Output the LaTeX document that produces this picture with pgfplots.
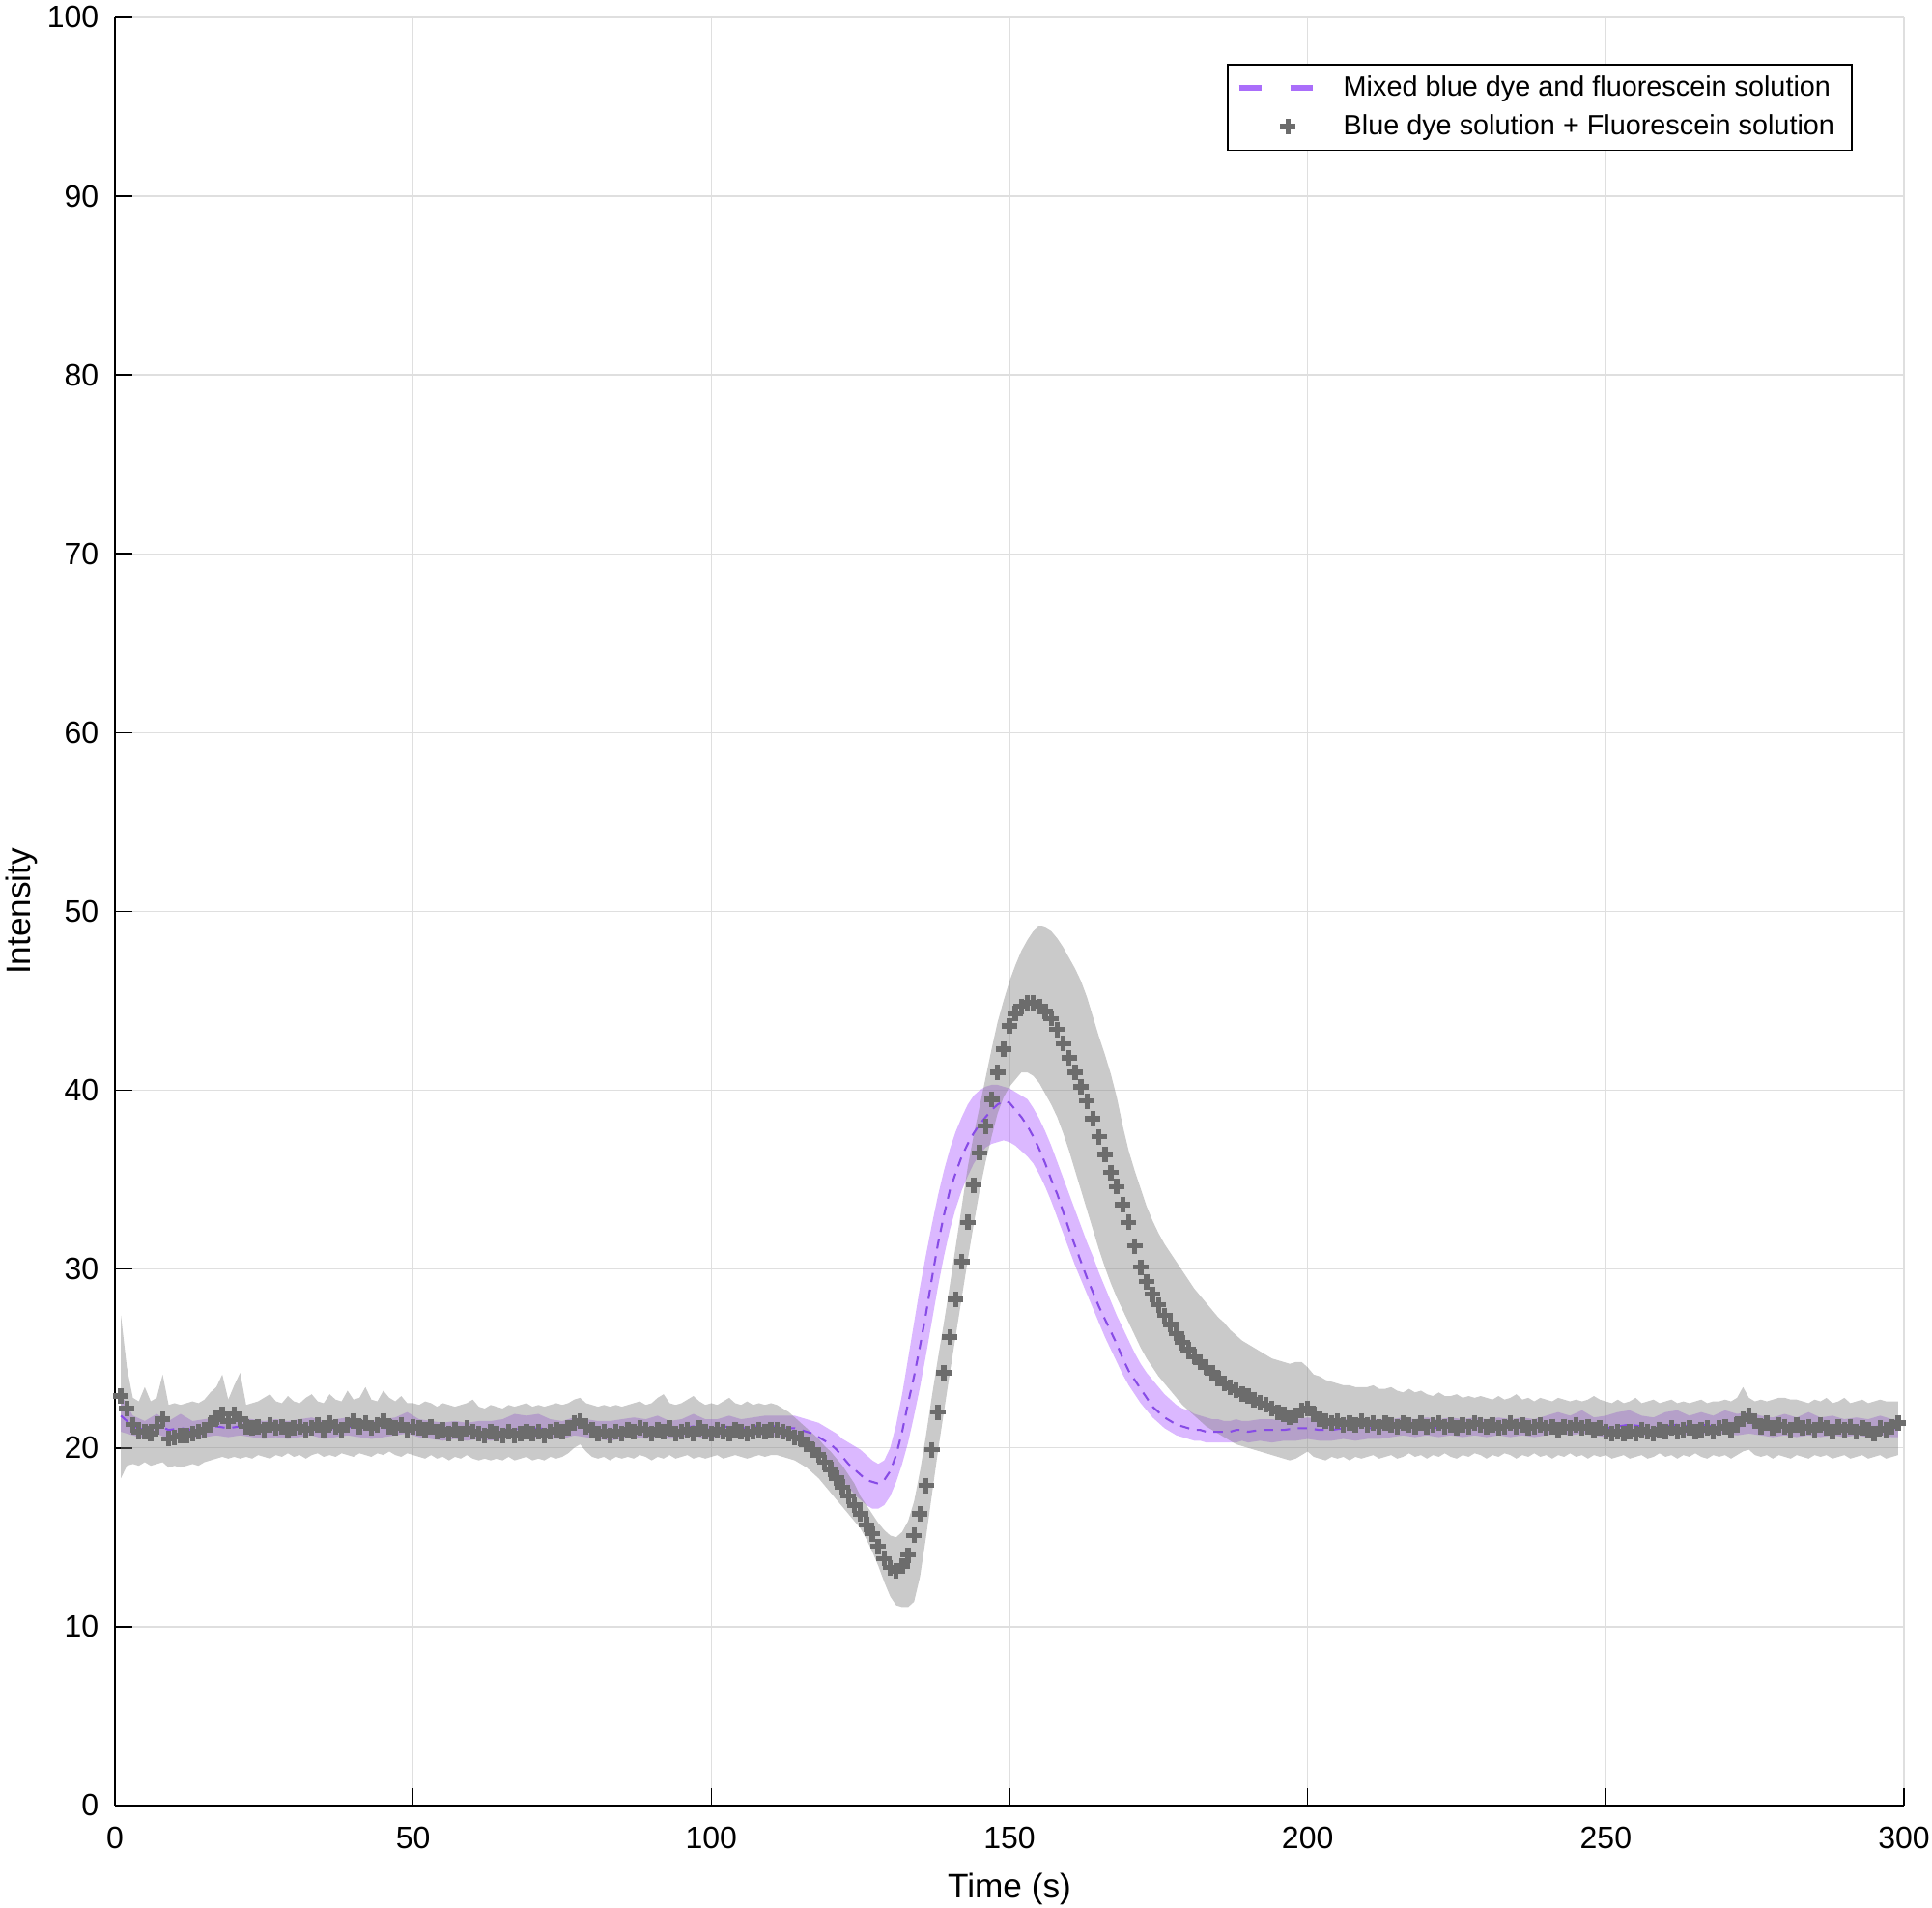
\documentclass[border=0pt]{standalone}
\usepackage{fontspec}
\setmainfont{Liberation Sans}
\usepackage{pgfplots}
\pgfplotsset{compat=1.18}
\usepackage{pgfplotstable}
\usepgfplotslibrary{fillbetween}
\definecolor{bandgray}{gray}{0.5}
\definecolor{markgray}{RGB}{108,108,108}
\definecolor{bandpurple}{RGB}{170,85,255}
\definecolor{linepurple}{RGB}{135,75,230}
\definecolor{legpurple}{RGB}{170,110,250}
\definecolor{gridgray}{RGB}{223,223,223}
\pgfplotsset{
  legdash/.style={legend image code/.code={\draw[legpurple, solid, line width=2pt, dash pattern=on 7.2pt off 9.4pt] (0pt,0pt) -- (23.8pt,0pt); \path[draw=none] (0pt,0pt) -- (30.8pt,0pt);}},
  legmark/.style={legend image code/.code={\path[draw=none] (0pt,0pt) -- (30.8pt,0pt); \draw[##1] plot coordinates {(15.9pt,0pt)};}},
}

\pgfplotstableread[row sep=\\]{
t m lo hi\\
1 22.9 18.3 27.4\\ 2 22.2 19.0 24.5\\ 3 21.3 19.1 22.8\\ 4 20.9 19.0 22.6\\ 5 20.9 19.2 23.4\\
6 20.8 19.0 22.6\\ 7 21.2 19.1 22.8\\ 8 21.6 19.2 24.1\\ 9 20.5 18.9 22.4\\ 10 20.6 19.0 22.5\\
11 20.7 18.9 22.4\\ 12 20.7 19.0 22.5\\ 13 20.8 19.1 22.6\\ 14 20.9 19.0 22.5\\ 15 21.0 19.2 22.7\\
16 21.3 19.3 23.1\\ 17 21.7 19.4 23.4\\ 18 21.9 19.5 24.1\\ 19 21.5 19.4 22.7\\ 20 21.9 19.5 23.5\\
21 21.6 19.4 24.2\\ 22 21.2 19.5 22.4\\ 23 21.1 19.4 22.5\\ 24 21.2 19.6 22.6\\ 25 21.0 19.5 22.8\\
26 21.3 19.4 23.0\\ 27 21.1 19.6 22.6\\ 28 21.2 19.5 22.5\\ 29 21.0 19.7 22.9\\ 30 21.1 19.5 22.6\\
31 21.2 19.6 22.5\\ 32 21.0 19.4 22.8\\ 33 21.1 19.6 23.0\\ 34 21.3 19.7 22.6\\ 35 21.0 19.5 22.5\\
36 21.4 19.6 23.0\\ 37 21.2 19.5 22.7\\ 38 21.0 19.7 22.6\\ 39 21.3 19.6 23.2\\ 40 21.5 19.5 22.7\\
41 21.2 19.7 22.8\\ 42 21.4 19.6 23.4\\ 43 21.1 19.5 22.7\\ 44 21.3 19.7 22.6\\ 45 21.5 19.6 23.2\\
46 21.2 19.8 22.8\\ 47 21.1 19.6 22.6\\ 48 21.3 19.5 22.9\\ 49 21.0 19.7 22.5\\ 50 21.2 19.6 22.5\\
51 21.1 19.5 22.4\\ 52 21.0 19.4 22.6\\ 53 21.2 19.6 22.5\\ 54 20.9 19.4 22.3\\ 55 21.0 19.5 22.5\\
56 20.8 19.3 22.4\\ 57 21.0 19.5 22.3\\ 58 20.8 19.4 22.4\\ 59 21.1 19.6 22.5\\ 60 20.9 19.4 22.7\\
61 20.8 19.3 22.3\\ 62 20.7 19.4 22.2\\ 63 20.9 19.3 22.4\\ 64 20.8 19.4 22.3\\ 65 20.7 19.3 22.2\\
66 20.9 19.5 22.4\\ 67 20.7 19.3 22.3\\ 68 20.8 19.4 22.4\\ 69 20.9 19.5 22.5\\ 70 20.8 19.3 22.3\\
71 20.9 19.4 22.4\\ 72 20.7 19.3 22.3\\ 73 20.9 19.5 22.4\\ 74 21.0 19.4 22.5\\ 75 20.9 19.5 22.4\\
76 21.1 19.7 22.5\\ 77 21.4 20.0 22.7\\ 78 21.5 20.2 22.8\\ 79 21.2 19.8 22.5\\ 80 21.0 19.5 22.4\\
81 20.8 19.4 22.3\\ 82 20.9 19.5 22.4\\ 83 20.7 19.3 22.3\\ 84 20.9 19.5 22.4\\ 85 20.8 19.4 22.3\\
86 21.0 19.5 22.4\\ 87 20.9 19.4 22.5\\ 88 21.1 19.6 22.6\\ 89 21.0 19.5 22.4\\ 90 20.8 19.3 22.5\\
91 21.0 19.5 22.8\\ 92 20.9 19.4 23.0\\ 93 21.1 19.6 22.5\\ 94 20.8 19.4 22.4\\ 95 20.9 19.5 22.5\\
96 21.0 19.6 22.7\\ 97 20.8 19.4 22.9\\ 98 21.1 19.5 22.6\\ 99 20.9 19.4 22.4\\ 100 20.8 19.5 22.5\\
101 21.0 19.6 22.4\\ 102 20.9 19.4 22.6\\ 103 20.8 19.5 22.8\\ 104 21.0 19.6 22.5\\ 105 20.9 19.5 22.4\\
106 20.8 19.4 22.6\\ 107 20.9 19.5 22.4\\ 108 21.0 19.6 22.5\\ 109 20.9 19.5 22.4\\ 110 21.0 19.6 22.5\\
111 21.0 19.6 22.4\\ 112 20.9 19.5 22.2\\ 113 20.8 19.4 22.0\\ 114 20.6 19.3 21.7\\ 115 20.5 19.1 21.4\\
116 20.2 18.9 21.1\\ 117 19.9 18.6 20.8\\ 118 19.6 18.3 20.5\\ 119 19.2 17.9 20.1\\ 120 18.8 17.5 19.8\\
121 18.3 17.1 19.4\\ 122 17.8 16.7 19.0\\ 123 17.3 16.3 18.5\\ 124 16.8 15.9 18.0\\ 125 16.3 15.5 17.3\\
126 15.7 14.9 16.8\\ 127 15.2 14.2 16.3\\ 128 14.5 13.4 15.8\\ 129 13.8 12.5 15.4\\ 130 13.3 11.7 15.1\\
131 13.1 11.2 15.0\\ 132 13.4 11.1 15.3\\ 133 14.0 11.1 15.9\\ 134 15.1 11.4 17.0\\ 135 16.3 12.8 18.7\\
136 17.9 15.0 20.7\\ 137 19.9 17.4 22.9\\ 138 22.0 19.8 25.0\\ 139 24.2 22.0 27.0\\ 140 26.2 24.2 29.1\\
141 28.3 26.3 31.3\\ 142 30.4 28.4 33.5\\ 143 32.6 30.5 35.7\\ 144 34.7 32.5 37.5\\ 145 36.5 34.4 39.1\\
146 38.0 36.0 40.7\\ 147 39.5 37.4 42.3\\ 148 41.0 38.7 43.8\\ 149 42.3 39.6 45.0\\ 150 43.6 40.2 46.1\\
151 44.3 40.6 47.0\\ 152 44.7 41.0 47.8\\ 153 44.9 41.0 48.4\\ 154 44.9 40.8 48.9\\ 155 44.7 40.4 49.2\\
156 44.4 39.8 49.1\\ 157 44.0 39.2 48.9\\ 158 43.4 38.5 48.5\\ 159 42.6 37.6 48.0\\ 160 41.8 36.6 47.4\\
161 41.0 35.5 46.8\\ 162 40.2 34.4 46.1\\ 163 39.4 33.3 45.2\\ 164 38.4 32.2 44.1\\ 165 37.4 31.1 43.0\\
166 36.4 30.1 42.0\\ 167 35.4 29.2 40.9\\ 168 34.6 28.4 39.6\\ 169 33.6 27.7 38.0\\ 170 32.6 27.0 36.6\\
171 31.3 26.3 35.5\\ 172 30.1 25.6 34.5\\ 173 29.3 25.0 33.5\\ 174 28.6 24.5 32.7\\ 175 28.0 24.0 32.0\\
176 27.4 23.6 31.4\\ 177 26.9 23.2 30.9\\ 178 26.4 22.8 30.4\\ 179 25.9 22.4 29.9\\ 180 25.5 22.1 29.4\\
181 25.1 21.8 28.9\\ 182 24.8 21.5 28.5\\ 183 24.5 21.2 28.1\\ 184 24.2 21.0 27.7\\ 185 23.9 20.8 27.3\\
186 23.6 20.6 27.0\\ 187 23.4 20.4 26.6\\ 188 23.2 20.2 26.3\\ 189 23.0 20.1 26.0\\ 190 22.9 20.0 25.8\\
191 22.7 19.9 25.6\\ 192 22.5 19.8 25.4\\ 193 22.4 19.7 25.2\\ 194 22.2 19.6 25.0\\ 195 22.0 19.5 24.9\\
196 21.9 19.4 24.8\\ 197 21.7 19.3 24.7\\ 198 21.8 19.4 24.8\\ 199 22.1 19.6 24.8\\ 200 22.2 19.8 24.5\\
201 21.9 19.5 24.1\\ 202 21.6 19.4 24.0\\ 203 21.5 19.3 23.8\\ 204 21.4 19.5 23.7\\ 205 21.5 19.4 23.6\\
206 21.3 19.5 23.5\\ 207 21.4 19.3 23.5\\ 208 21.3 19.5 23.4\\ 209 21.5 19.4 23.4\\ 210 21.3 19.5 23.4\\
211 21.4 19.6 23.5\\ 212 21.2 19.4 23.3\\ 213 21.4 19.5 23.3\\ 214 21.3 19.6 23.4\\ 215 21.2 19.4 23.2\\
216 21.4 19.5 23.1\\ 217 21.3 19.7 23.3\\ 218 21.2 19.5 23.1\\ 219 21.4 19.6 23.2\\ 220 21.2 19.4 23.0\\
221 21.3 19.6 22.9\\ 222 21.4 19.5 23.1\\ 223 21.2 19.7 22.9\\ 224 21.3 19.5 22.9\\ 225 21.1 19.4 23.0\\
226 21.3 19.6 22.8\\ 227 21.2 19.5 22.9\\ 228 21.4 19.7 22.8\\ 229 21.3 19.6 22.9\\ 230 21.2 19.4 22.8\\
231 21.3 19.6 22.7\\ 232 21.1 19.5 22.9\\ 233 21.2 19.7 22.7\\ 234 21.4 19.6 22.8\\ 235 21.2 19.4 23.0\\
236 21.3 19.6 22.7\\ 237 21.1 19.5 22.8\\ 238 21.2 19.7 22.6\\ 239 21.3 19.5 22.8\\ 240 21.1 19.6 22.7\\
241 21.2 19.4 22.6\\ 242 21.0 19.6 22.8\\ 243 21.2 19.5 22.7\\ 244 21.1 19.7 22.6\\ 245 21.3 19.5 22.7\\
246 21.1 19.6 22.6\\ 247 21.2 19.4 22.7\\ 248 21.0 19.6 22.9\\ 249 21.1 19.5 22.7\\ 250 20.9 19.6 22.6\\
251 20.8 19.4 22.5\\ 252 20.9 19.5 22.7\\ 253 20.8 19.6 22.5\\ 254 20.9 19.4 22.6\\ 255 20.8 19.5 22.8\\
256 21.0 19.6 22.5\\ 257 20.9 19.4 22.6\\ 258 20.8 19.5 22.7\\ 259 21.0 19.7 22.5\\ 260 20.9 19.5 22.6\\
261 21.1 19.6 22.7\\ 262 20.9 19.4 22.5\\ 263 21.0 19.6 22.6\\ 264 21.1 19.5 22.5\\ 265 20.9 19.7 22.6\\
266 21.0 19.5 22.7\\ 267 21.1 19.4 22.5\\ 268 20.9 19.6 22.6\\ 269 21.1 19.5 22.6\\ 270 21.2 19.6 22.7\\
271 21.0 19.4 22.6\\ 272 21.3 19.6 22.8\\ 273 21.6 19.8 23.4\\ 274 21.8 19.9 22.8\\ 275 21.5 19.6 22.6\\
276 21.2 19.5 22.7\\ 277 21.4 19.6 22.6\\ 278 21.1 19.4 22.7\\ 279 21.3 19.6 22.8\\ 280 21.2 19.5 22.8\\
281 21.0 19.4 22.7\\ 282 21.3 19.6 22.7\\ 283 21.1 19.5 22.6\\ 284 21.2 19.4 22.5\\ 285 21.0 19.6 22.7\\
286 21.3 19.5 22.6\\ 287 21.1 19.6 22.8\\ 288 20.9 19.4 22.5\\ 289 21.2 19.5 22.6\\ 290 21.0 19.6 22.8\\
291 21.2 19.4 22.5\\ 292 20.9 19.5 22.6\\ 293 21.1 19.6 22.7\\ 294 21.0 19.4 22.5\\ 295 20.8 19.5 22.6\\
296 21.1 19.6 22.7\\ 297 21.0 19.4 22.6\\ 298 21.2 19.5 22.6\\ 299 21.4 19.6 22.6\\
}\graytab

\pgfplotstableread[row sep=\\]{
t p lo hi\\
1 21.8 20.9 23.0\\ 3 21.2 20.7 21.8\\ 5 21.0 20.5 21.5\\ 7 21.3 20.8 21.9\\ 9 21.0 20.5 21.5\\
11 21.1 20.6 21.9\\ 13 21.0 20.5 21.5\\ 15 21.1 20.6 21.6\\ 17 21.2 20.7 21.7\\ 19 21.1 20.6 21.6\\
21 21.2 20.7 21.7\\ 23 21.1 20.6 21.6\\ 25 21.0 20.5 21.5\\ 27 21.1 20.6 21.6\\ 29 21.0 20.5 21.5\\
31 21.1 20.6 21.6\\ 33 21.2 20.7 21.7\\ 35 21.0 20.5 21.5\\ 37 21.1 20.6 21.6\\ 39 21.2 20.7 21.7\\
41 21.1 20.6 21.6\\ 43 21.0 20.5 21.5\\ 45 21.1 20.6 21.6\\ 47 21.2 20.7 21.7\\ 49 21.3 20.8 22.0\\
51 21.1 20.6 21.6\\ 53 21.0 20.5 21.5\\ 55 20.9 20.4 21.4\\ 57 21.0 20.5 21.5\\ 59 20.9 20.4 21.4\\
61 21.0 20.5 21.5\\ 63 20.9 20.4 21.5\\ 65 21.0 20.5 21.6\\ 67 21.1 20.6 21.9\\ 69 21.0 20.5 21.8\\
71 21.1 20.6 21.9\\ 73 21.0 20.5 21.6\\ 75 21.0 20.5 21.5\\ 77 21.2 20.7 21.7\\ 79 21.1 20.6 21.6\\
81 21.0 20.5 21.5\\ 83 20.9 20.4 21.5\\ 85 21.0 20.5 21.6\\ 87 21.1 20.6 21.7\\ 89 21.0 20.5 21.6\\
91 21.1 20.6 21.8\\ 93 21.0 20.5 21.5\\ 95 21.1 20.6 21.6\\ 97 21.2 20.7 21.9\\ 99 21.0 20.5 21.6\\
101 21.1 20.6 21.6\\ 103 21.2 20.7 21.8\\ 105 21.1 20.6 21.6\\ 107 21.2 20.7 21.7\\ 109 21.2 20.7 21.8\\
110 21.2 20.7 21.8\\ 111 21.2 20.6 21.8\\ 112 21.2 20.6 21.8\\ 113 21.1 20.5 21.8\\ 114 21.1 20.4 21.8\\
115 21.0 20.3 21.7\\ 116 20.9 20.1 21.6\\ 117 20.8 19.9 21.5\\ 118 20.6 19.6 21.4\\ 119 20.4 19.3 21.2\\
120 20.2 19.0 21.0\\ 121 19.9 18.6 20.8\\ 122 19.5 18.2 20.5\\ 123 19.1 17.8 20.3\\ 124 18.8 17.4 20.1\\
125 18.5 17.1 19.9\\ 126 18.2 16.8 19.6\\ 127 18.1 16.6 19.3\\ 128 18.0 16.6 19.1\\ 129 18.2 16.8 19.3\\
130 18.7 17.3 20.0\\ 131 19.6 18.1 21.3\\ 132 20.9 19.1 23.0\\ 133 22.5 20.3 25.0\\ 134 24.0 21.8 27.0\\
135 25.7 23.4 29.0\\ 136 27.5 25.2 30.8\\ 137 29.5 27.1 32.5\\ 138 31.4 29.0 34.1\\ 139 33.0 30.7 35.5\\
140 34.4 32.2 36.7\\ 141 35.4 33.4 37.7\\ 142 36.3 34.4 38.5\\ 143 37.0 35.2 39.2\\ 144 37.6 35.9 39.7\\
145 38.1 36.4 40.0\\ 146 38.5 36.8 40.2\\ 147 38.9 37.0 40.3\\ 148 39.2 37.1 40.3\\ 149 39.4 37.2 40.2\\
150 39.3 37.1 40.1\\ 151 38.9 36.9 39.9\\ 152 38.5 36.6 39.7\\ 153 38.0 36.3 39.5\\ 154 37.4 35.9 39.0\\
155 36.7 35.3 38.4\\ 156 35.9 34.6 37.7\\ 157 35.0 33.8 36.9\\ 158 34.2 32.9 36.0\\ 159 33.2 32.0 35.1\\
160 32.2 31.1 34.2\\ 161 31.3 30.2 33.3\\ 162 30.4 29.4 32.4\\ 163 29.5 28.6 31.5\\ 164 28.7 27.8 30.7\\
165 27.9 27.0 29.8\\ 166 27.2 26.2 29.0\\ 167 26.5 25.5 28.2\\ 168 25.8 24.8 27.4\\ 169 25.0 24.1 26.7\\
170 24.3 23.5 26.0\\ 171 23.8 23.0 25.3\\ 172 23.3 22.5 24.7\\ 173 22.8 22.1 24.2\\ 174 22.3 21.7 23.8\\
175 22.0 21.4 23.4\\ 176 21.7 21.1 23.0\\ 177 21.5 20.9 22.7\\ 178 21.3 20.7 22.4\\ 179 21.2 20.6 22.2\\
180 21.1 20.5 22.1\\ 181 21.0 20.4 21.9\\ 182 21.0 20.4 21.8\\ 183 20.9 20.3 21.7\\ 184 20.9 20.3 21.6\\
185 20.9 20.3 21.6\\ 186 20.9 20.3 21.5\\ 187 20.9 20.3 21.5\\ 188 21.0 20.3 21.6\\ 189 21.0 20.4 21.5\\
190 20.9 20.3 21.5\\ 192 21.0 20.4 21.6\\ 194 21.0 20.3 21.6\\ 196 21.0 20.4 21.5\\ 198 21.1 20.4 21.6\\
200 21.1 20.5 21.7\\ 202 21.0 20.4 21.6\\ 204 21.0 20.4 21.5\\ 206 21.1 20.5 21.6\\ 208 21.0 20.4 21.6\\
210 21.1 20.5 21.6\\ 212 21.1 20.5 21.6\\ 214 21.1 20.6 21.6\\ 216 21.2 20.7 21.7\\ 218 21.1 20.6 21.6\\
220 21.2 20.7 21.7\\ 222 21.1 20.6 21.6\\ 224 21.2 20.7 21.7\\ 226 21.1 20.6 21.6\\ 228 21.2 20.7 21.7\\
230 21.1 20.6 21.6\\ 232 21.2 20.7 21.7\\ 234 21.1 20.6 21.6\\ 236 21.2 20.7 21.7\\ 238 21.1 20.6 21.6\\
240 21.2 20.7 21.8\\ 242 21.3 20.8 22.0\\ 244 21.2 20.7 21.8\\ 246 21.3 20.8 22.1\\ 248 21.2 20.7 21.7\\
250 21.1 20.6 21.8\\ 252 21.2 20.7 22.0\\ 254 21.3 20.8 22.1\\ 256 21.2 20.7 21.8\\ 258 21.1 20.6 21.7\\
260 21.2 20.7 22.0\\ 262 21.3 20.8 22.1\\ 264 21.2 20.7 21.8\\ 266 21.3 20.8 22.0\\ 268 21.2 20.7 21.8\\
270 21.3 20.8 22.1\\ 272 21.2 20.7 21.9\\ 274 21.3 20.8 22.0\\ 276 21.2 20.7 21.8\\ 278 21.1 20.6 21.7\\
280 21.2 20.7 21.9\\ 282 21.1 20.6 21.7\\ 284 21.2 20.7 22.0\\ 286 21.1 20.6 21.7\\ 288 21.2 20.7 21.8\\
290 21.1 20.6 21.6\\ 292 21.2 20.7 21.7\\ 294 21.1 20.6 21.6\\ 296 21.2 20.7 21.8\\ 298 21.1 20.6 21.6\\
299 21.1 20.6 21.6\\
}\purptab

\begin{document}
\begin{tikzpicture}
\begin{axis}[
  scale only axis, width=578.75pt, height=578.4pt,
  xmin=0, xmax=300, ymin=0, ymax=100,
  xtick={0,50,...,300}, ytick={0,10,...,100},
  axis x line*=bottom, axis y line*=left,
  axis line style={black, line width=0.5pt, -},
  tick align=inside, major tick length=5.6pt,
  tick style={black, line width=0.5pt},
  grid=major, major grid style={gridgray, line width=0.45pt},
  ticklabel style={font=\fontsize{10}{12}\selectfont},
  /pgf/number format/assume math mode=true,
  xticklabel style={yshift=-3.5pt},
  yticklabel style={xshift=-1.7pt},
  xlabel={Time (s)}, ylabel={Intensity},
  label style={font=\fontsize{11}{13}\selectfont},
  xlabel style={at={(axis description cs:0.5,-0.0465)}, anchor=center},
  ylabel style={at={(axis description cs:-0.0524,0.5)}, anchor=center},
  legend style={at={(axis description cs:0.9714,0.9741)}, anchor=north east,
    draw=black, line width=0.5pt, fill=white,
    font=\fontsize{9}{11}\selectfont, inner xsep=2.7pt, inner ysep=1.35pt,
    nodes={inner ysep=2.25pt, inner xsep=3pt}},
  legend cell align=left,
]
\addplot[draw=none, forget plot, name path=pu] table[x=t,y=hi]{\purptab};
\addplot[draw=none, forget plot, name path=pl] table[x=t,y=lo]{\purptab};
\addplot[fill=bandpurple, fill opacity=0.42, draw=none, forget plot] fill between[of=pu and pl];
\addplot[draw=none, forget plot, name path=gu] table[x=t,y=hi]{\graytab};
\addplot[draw=none, forget plot, name path=gl] table[x=t,y=lo]{\graytab};
\addplot[fill=bandgray, fill opacity=0.42, draw=none, forget plot] fill between[of=gu and gl];
\addplot[linepurple, line width=0.65pt, dash pattern=on 3pt off 2.5pt, no markers, legdash]
  table[x=t,y=p]{\purptab};
\addlegendentry{Mixed blue dye and fluorescein solution}
\addplot[only marks, mark=+, mark size=2.5pt, markgray, mark options={line width=1.7pt, solid}, legmark]
  table[x=t,y=m]{\graytab};
\addlegendentry{Blue dye solution + Fluorescein solution}
\end{axis}
\pgfresetboundingbox
\path[use as bounding box] ([xshift=-37.19pt,yshift=-33.13pt]current axis.south west) rectangle ([xshift=9.06pt,yshift=5.63pt]current axis.north east);
\end{tikzpicture}
\end{document}
